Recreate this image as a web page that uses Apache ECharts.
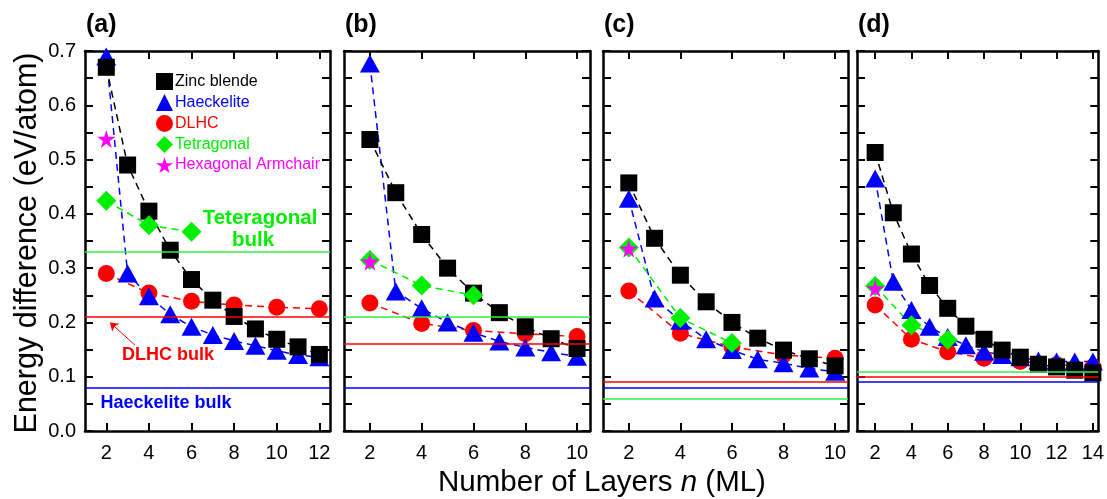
<!DOCTYPE html>
<html>
<head>
<meta charset="utf-8">
<script src="https://cdn.jsdelivr.net/npm/echarts@6/dist/echarts.min.js"></script>
<style>
    html, body { margin: 0; padding: 0; background: #fff; }
    #chart { width: 1107px; height: 499px; }
</style>
</head>
<body>
<div id="chart"></div>
<script>
// ---------------------------------------------------------------------------------------------
// DATA

const layersA = [2, 3, 4, 5, 6, 7, 8, 9, 10, 11, 12];
const layersB = [2, 3, 4, 5, 6, 7, 8, 9, 10];
const layersC = [2, 3, 4, 5, 6, 7, 8, 9, 10];
const layersD = [2, 3, 4, 5, 6, 7, 8, 9, 10, 11, 12, 13, 14];
const evenA = [2, 4, 6, 8, 10, 12];
const evenB = [2, 4, 6, 8, 10];
const evenC = [2, 4, 6, 8, 10];
const evenD = [2, 4, 6, 8, 10, 12, 14];
const tetLayers = [2, 4, 6];
const hexLayers = [2];

const zincA = [0.670, 0.490, 0.405, 0.333, 0.279, 0.241, 0.211, 0.188, 0.169, 0.155, 0.141];
const haeA  = [0.690, 0.290, 0.248, 0.215, 0.192, 0.177, 0.166, 0.157, 0.148, 0.140, 0.136];
const dlhcA = [0.290, 0.254, 0.239, 0.232, 0.228, 0.225];
const tetA  = [0.424, 0.379, 0.367];
const hexA  = [0.538];

const zincB = [0.537, 0.439, 0.362, 0.300, 0.254, 0.218, 0.192, 0.170, 0.152];
const haeB  = [0.677, 0.257, 0.226, 0.200, 0.181, 0.165, 0.154, 0.145, 0.137];
const dlhcB = [0.236, 0.198, 0.185, 0.179, 0.174];
const tetB  = [0.315, 0.268, 0.250];
const hexB  = [0.312];

const zincC = [0.457, 0.355, 0.287, 0.238, 0.200, 0.171, 0.149, 0.133, 0.120];
const haeC  = [0.428, 0.244, 0.203, 0.169, 0.149, 0.132, 0.125, 0.115, 0.109];
const dlhcC = [0.258, 0.180, 0.155, 0.140, 0.134];
const tetC  = [0.338, 0.208, 0.162];
const hexC  = [0.336];

const zincD = [0.513, 0.402, 0.326, 0.268, 0.226, 0.193, 0.169, 0.149, 0.136, 0.123, 0.118, 0.112, 0.107];
const haeD  = [0.465, 0.275, 0.223, 0.192, 0.173, 0.158, 0.146, 0.140, 0.136, 0.130, 0.128, 0.128, 0.128];
const dlhcD = [0.232, 0.169, 0.146, 0.134, 0.128, 0.122, 0.118];
const tetD  = [0.267, 0.195, 0.168];
const hexD  = [0.263];

// bulk reference energies: [tetragonal, DLHC, haeckelite]
const bulkA = [0.327, 0.212, 0.079];
const bulkB = [0.212, 0.156, 0.079];
const bulkC = [0.057, 0.087, 0.084];
const bulkD = [0.107, 0.103, 0.087];

// arrow pointing at the DLHC bulk line in (a): tail, head
const arrowA = [[3.35, 0.158], [2.17, 0.200]];

const yTicks = [0, 0.1, 0.2, 0.3, 0.4, 0.5, 0.6, 0.7];

// ---------------------------------------------------------------------------------------------

const C_ZB = '#000000', C_HAE = '#0000ff', C_DLHC = '#ff0000', C_TET = '#00ee00', C_HEX = '#ff00ff';
const C_TETBULK = '#33ee44';
const STAR = 'path://M50,0 L61,35 L98,35 L68,57 L79,91 L50,70 L21,91 L32,57 L2,35 L39,35 Z';
const FONT = '"Liberation Sans", Arial, sans-serif';

const panels = [
    {label: '(a)', left: 85,  width: 245, max: 12.5, even: evenA, layers: layersA, zinc: zincA, hae: haeA, dlhc: dlhcA, tet: tetA, hex: hexA, bulk: bulkA},
    {label: '(b)', left: 344, width: 246, max: 10.5, even: evenB, layers: layersB, zinc: zincB, hae: haeB, dlhc: dlhcB, tet: tetB, hex: hexB, bulk: bulkB},
    {label: '(c)', left: 603, width: 245, max: 10.5, even: evenC, layers: layersC, zinc: zincC, hae: haeC, dlhc: dlhcC, tet: tetC, hex: hexC, bulk: bulkC},
    {label: '(d)', left: 857, width: 245, max: 14.3, even: evenD, layers: layersD, zinc: zincD, hae: haeD, dlhc: dlhcD, tet: tetD, hex: hexD, bulk: bulkD}
];

const GRID_TOP = 51, GRID_H = 380;

function pairs(xs, ys) {
    return ys.map((v, i) => [xs[i], v]);
}

function dashed(color) {
    return {color: color, width: 1.5, type: [7, 5]};
}

let grids = [], xAxes = [], yAxes = [], series = [];

let axisLine = {show: true, onZero: false, lineStyle: {color: '#000', width: 2.5}};
let tick = {show: true, inside: true, length: 8, lineStyle: {color: '#000', width: 2}};

panels.forEach((p, i) => {
    grids.push({left: p.left, width: p.width, top: GRID_TOP, height: GRID_H});

    // bottom x axis
    xAxes.push({
        type: 'value', gridIndex: i, min: 1, max: p.max, position: 'bottom',
        axisLine: axisLine, splitLine: {show: false},
        axisTick: Object.assign({customValues: p.even}, tick),
        axisLabel: {customValues: p.even, color: '#000', fontSize: 20, fontFamily: FONT, margin: 12}
    });
    // left y axis
    yAxes.push({
        type: 'value', gridIndex: i, min: 0, max: 0.7, interval: 0.05, position: 'left',
        axisLine: axisLine, splitLine: {show: false}, axisTick: tick,
        axisLabel: {
            show: i === 0, color: '#000', fontSize: 20, fontFamily: FONT, margin: 9,
            customValues: yTicks, formatter: v => v.toFixed(1)
        }
    });
});
// top and right axes close the frames
panels.forEach((p, i) => {
    xAxes.push({
        type: 'value', gridIndex: i, min: 1, max: p.max, position: 'top',
        axisLine: axisLine, splitLine: {show: false},
        axisTick: Object.assign({customValues: p.even}, tick), axisLabel: {show: false}
    });
    yAxes.push({
        type: 'value', gridIndex: i, min: 0, max: 0.7, interval: 0.05, position: 'right',
        axisLine: axisLine, splitLine: {show: false}, axisTick: tick, axisLabel: {show: false}
    });
});

panels.forEach((p, i) => {
    let bulkLines = [
        {yAxis: p.bulk[0], lineStyle: {color: C_TETBULK}},
        {yAxis: p.bulk[1], lineStyle: {color: C_DLHC}},
        {yAxis: p.bulk[2], lineStyle: {color: C_HAE}}
    ];
    if (i === 0) {
        bulkLines.push([
            {coord: arrowA[0], symbol: 'none'},
            {coord: arrowA[1], symbol: 'arrow', symbolSize: 8, lineStyle: {color: C_DLHC, width: 1}}
        ]);
    }
    let base = {type: 'line', xAxisIndex: i, yAxisIndex: i, animation: false, silent: true};

    series.push(Object.assign({}, base, {
        name: 'DLHC', data: pairs(p.even, p.dlhc), symbol: 'circle', symbolSize: 17,
        itemStyle: {color: C_DLHC}, lineStyle: dashed(C_DLHC),
        markLine: {
            silent: true, symbol: 'none', label: {show: false}, animation: false,
            lineStyle: {type: 'solid', width: 1.5}, data: bulkLines
        }
    }));
    series.push(Object.assign({}, base, {
        name: 'Haeckelite', data: pairs(p.layers, p.hae), symbol: 'triangle', symbolSize: [20, 18],
        itemStyle: {color: C_HAE}, lineStyle: dashed(C_HAE)
    }));
    series.push(Object.assign({}, base, {
        name: 'Zinc blende', data: pairs(p.layers, p.zinc), symbol: 'rect', symbolSize: 17,
        itemStyle: {color: C_ZB}, lineStyle: dashed(C_ZB)
    }));
    series.push(Object.assign({}, base, {
        name: 'Tetragonal', data: pairs(tetLayers, p.tet), symbol: 'diamond', symbolSize: 20,
        itemStyle: {color: C_TET}, lineStyle: dashed(C_TET)
    }));
    series.push(Object.assign({}, base, {
        name: 'Hexagonal Armchair', data: pairs(hexLayers, p.hex), symbol: STAR, symbolSize: 18,
        itemStyle: {color: C_HEX}
    }));
});

// ---------------------------------------------------------------------------------------------
// texts

let graphics = panels.map(p => ({
    type: 'text', left: p.left + 1, top: 13,
    style: {text: p.label, font: 'bold 25px ' + FONT, fill: '#000'}
}));

function bold(text, x, y, color, size) {
    return {
        type: 'text', x: x, y: y,
        style: {text: text, font: 'bold ' + size + 'px ' + FONT, fill: color, textAlign: 'center', textVerticalAlign: 'middle'}
    };
}
graphics.push(bold('Teteragonal', 260, 218, C_TET, 20.5));
graphics.push(bold('bulk', 253, 240, C_TET, 20.5));
graphics.push(bold('DLHC bulk', 168, 355, C_DLHC, 18));
graphics.push(bold('Haeckelite bulk', 166, 403, C_HAE, 18));

graphics.push({
    type: 'text', x: 28, y: 243, rotation: Math.PI / 2,
    style: {text: 'Energy difference (eV/atom)', font: '30.5px ' + FONT, fill: '#000', textAlign: 'center', textVerticalAlign: 'middle'}
});
graphics.push({
    type: 'text', x: 602, y: 483,
    style: {
        text: '{a|Number of Layers }{b|n}{a| (ML)}', textAlign: 'center', textVerticalAlign: 'middle',
        rich: {
            a: {font: '29.5px ' + FONT, fill: '#000'},
            b: {font: 'italic 29.5px ' + FONT, fill: '#000'}
        }
    }
});

let legendItem = (name, icon, color) => ({name: name, icon: icon, itemStyle: {color: color}, textStyle: {color: color}});

let option = {
    backgroundColor: '#fff',
    grid: grids,
    xAxis: xAxes,
    yAxis: yAxes,
    series: series,
    legend: {
        orient: 'vertical', left: 151, top: 68, itemWidth: 17, itemHeight: 17, itemGap: 4,
        selectedMode: false,
        textStyle: {fontSize: 16, fontFamily: FONT, padding: [0, 0, 0, -3]},
        data: [
            legendItem('Zinc blende', 'rect', C_ZB),
            legendItem('Haeckelite', 'triangle', C_HAE),
            legendItem('DLHC', 'circle', C_DLHC),
            legendItem('Tetragonal', 'diamond', C_TET),
            legendItem('Hexagonal Armchair', STAR, C_HEX)
        ]
    },
    graphic: graphics
};

let chart = echarts.init(document.getElementById('chart'));
chart.setOption(option);
</script>
</body>
</html>
